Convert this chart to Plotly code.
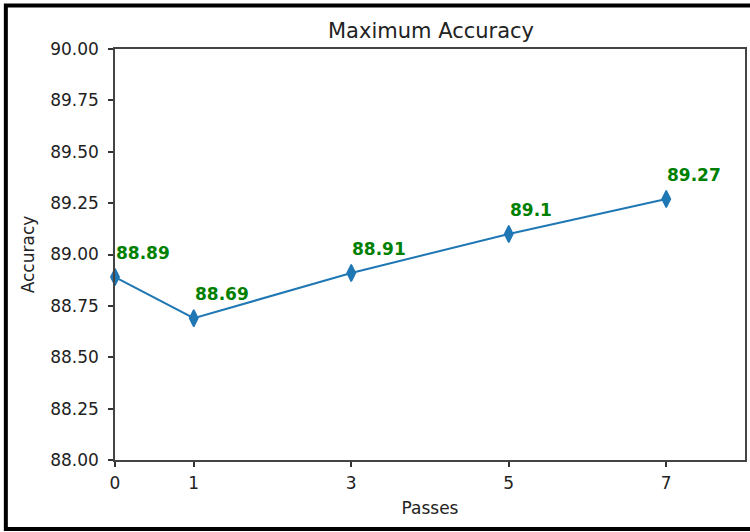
import plotly.graph_objects as go

# dados
passes = [0, 1, 3, 5, 7]
accuracy = [88.89, 88.69, 88.91, 89.1, 89.27]
labels = ["88.89", "88.69", "88.91", "89.1", "89.27"]
x_ticks = [0, 1, 3, 5, 7]
y_ticks = [88.00, 88.25, 88.50, 88.75, 89.00, 89.25, 89.50, 89.75, 90.00]

W, H = 750, 532
ML, MR, MT, MB = 115, 3, 49, 72
font = "DejaVu Sans"

fig = go.Figure()

fig.add_trace(go.Scatter(
    x=passes,
    y=accuracy,
    mode="lines+markers",
    line=dict(color="#1f77b4", width=2),
    marker=dict(symbol="diamond-tall", size=12, color="#1f77b4",
                line=dict(color="#1f77b4", width=1.5)),
    cliponaxis=False,
    showlegend=False,
))

annotations = []
for x, y, t in zip(passes, accuracy, labels):
    annotations.append(dict(
        x=x, y=y, text=f"<b>{t}</b>",
        xanchor="left", yanchor="bottom",
        xshift=-1, yshift=12,
        showarrow=False,
        font=dict(family=font, size=17, color="#008000"),
    ))

# moldura preta em volta da imagem (coordenadas em paper)
pw = W - ML - MR
ph = H - MT - MB
def px_to_paper_x(p):
    return (p - ML) / pw
def px_to_paper_y(p):
    return (H - MB - p) / ph

fig.update_layout(
    width=W,
    height=H,
    margin=dict(l=ML, r=MR, t=MT, b=MB),
    paper_bgcolor="white",
    plot_bgcolor="white",
    font=dict(family=font, size=17, color="#222"),
    title=dict(text="Maximum Accuracy", x=(ML + pw / 2) / W, xanchor="center",
               y=1 - 31 / H, yanchor="middle",
               font=dict(family=font, size=21, color="#222")),
    xaxis=dict(
        range=[0, 8],
        tickvals=x_ticks,
        ticktext=[str(v) for v in x_ticks],
        ticks="outside", ticklen=5, tickcolor="#333", tickwidth=1.5,
        ticklabelstandoff=2,
        showline=True, linecolor="#444", linewidth=1.5, mirror=True,
        showgrid=False, zeroline=False,
        title=dict(text="Passes", standoff=10, font=dict(size=17)),
    ),
    yaxis=dict(
        range=[88, 90],
        tickvals=y_ticks,
        ticktext=[f"{v:.2f}" for v in y_ticks],
        ticks="outside", ticklen=5, tickcolor="#333", tickwidth=1.5,
        ticklabelstandoff=6,
        showline=True, linecolor="#444", linewidth=1.5, mirror=True,
        showgrid=False, zeroline=False,
        title=dict(text="Accuracy", standoff=11, font=dict(size=17)),
    ),
    annotations=annotations,
    shapes=[dict(
        type="rect", xref="paper", yref="paper",
        x0=px_to_paper_x(5.5), x1=px_to_paper_x(756),
        y0=px_to_paper_y(529), y1=px_to_paper_y(5.5),
        line=dict(color="black", width=4),
        fillcolor="rgba(0,0,0,0)",
        layer="above",
    )],
)

# tira a margem padrão do body para o gráfico ocupar a janela toda
fig.write_html(
    "out.html",
    config={"displayModeBar": False},
    post_script="document.body.style.margin='0';",
)
